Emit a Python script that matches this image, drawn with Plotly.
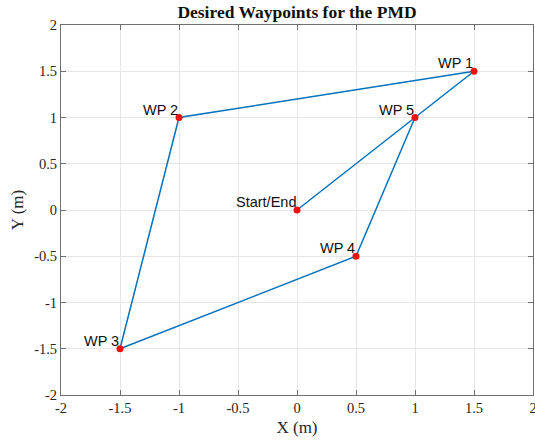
import plotly.graph_objects as go

# Waypoint data
path_x = [0, 1.5, -1, -1.5, 0.5, 1, 0]
path_y = [0, 1.5, 1, -1.5, -0.5, 1, 0]
wp_x = [0, 1.5, -1, -1.5, 0.5, 1]
wp_y = [0, 1.5, 1, -1.5, -0.5, 1]
wp_labels = ["Start/End", "WP 1", "WP 2", "WP 3", "WP 4", "WP 5"]
tick_vals = [-2, -1.5, -1, -0.5, 0, 0.5, 1, 1.5, 2]
tick_text = ["-2", "-1.5", "-1", "-0.5", "0", "0.5", "1", "1.5", "2"]

fig = go.Figure()
fig.add_trace(go.Scatter(x=path_x, y=path_y, mode="lines",
                         line=dict(color="#0072BD", width=1.5),
                         hoverinfo="skip", showlegend=False))
fig.add_trace(go.Scatter(x=wp_x, y=wp_y, mode="markers",
                         marker=dict(color="#E8150E", size=7),
                         showlegend=False))

for x, y, t in zip(wp_x, wp_y, wp_labels):
    fig.add_annotation(x=x, y=y, text=t, showarrow=False,
                       xanchor="right", yanchor="bottom", xshift=1, yshift=-2,
                       font=dict(family="Liberation Sans, Arial", size=14.5, color="#111"))

axis_common = dict(
    tickvals=tick_vals, ticktext=tick_text, range=[-2, 2],
    showgrid=True, gridcolor="#E6E6E6", gridwidth=1,
    zeroline=False, showline=True, linecolor="#707070", linewidth=1,
    mirror="ticks", ticks="inside", ticklen=5, tickcolor="#707070",
    ticklabeloverflow="allow", automargin=False,
    tickfont=dict(family="Liberation Serif, Times New Roman", size=14.5, color="#262626"),
)

fig.update_layout(
    width=535, height=442,
    margin=dict(l=61, r=2, t=25, b=47),
    paper_bgcolor="white", plot_bgcolor="white",
    title=dict(text="<b>Desired Waypoints for the PMD</b>", x=(61 + 533) / 2 / 535,
               xanchor="center", y=1 - 12 / 442, yanchor="middle",
               font=dict(family="Liberation Serif, Times New Roman", size=17.5, color="#111")),
    xaxis=dict(**axis_common,
               title=dict(text="X (m)", standoff=5,
                          font=dict(family="Liberation Serif, Times New Roman", size=17, color="#262626"))),
    yaxis=dict(**axis_common,
               title=dict(text="Y (m)", standoff=6,
                          font=dict(family="Liberation Serif, Times New Roman", size=17, color="#262626"))),
)

fig.write_html("out.html")
